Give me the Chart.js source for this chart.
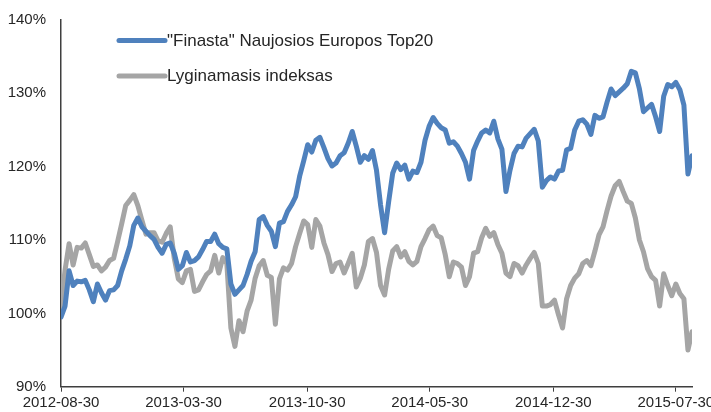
<!DOCTYPE html>
<html>
<head>
<meta charset="utf-8">
<script src="https://cdn.jsdelivr.net/npm/chart.js@4.4.1/dist/chart.umd.min.js"></script>
<style>
  html, body { margin: 0; padding: 0; background: #ffffff; }
  #wrap { width: 711px; height: 412px; position: relative; }
</style>
</head>
<body>
<div id="wrap"><canvas id="c" width="711" height="412"></canvas></div>
<script>
const dates = [
  '2012-08-30','2012-09-06','2012-09-13','2012-09-20','2012-09-27','2012-10-04','2012-10-11','2012-10-18','2012-10-25',
  '2012-11-01','2012-11-08','2012-11-15','2012-11-22','2012-11-29','2012-12-06','2012-12-13','2012-12-20','2012-12-27',
  '2013-01-03','2013-01-10','2013-01-17','2013-01-24','2013-01-31','2013-02-07','2013-02-14','2013-02-21','2013-02-28',
  '2013-03-07','2013-03-14','2013-03-21','2013-03-28','2013-04-04','2013-04-11','2013-04-18','2013-04-25','2013-05-02',
  '2013-05-09','2013-05-16','2013-05-23','2013-05-30','2013-06-06','2013-06-13','2013-06-20','2013-06-27','2013-07-04',
  '2013-07-11','2013-07-18','2013-07-25','2013-08-01','2013-08-08','2013-08-15','2013-08-22','2013-08-29','2013-09-05',
  '2013-09-12','2013-09-19','2013-09-26','2013-10-03','2013-10-10','2013-10-17','2013-10-24','2013-10-31','2013-11-07',
  '2013-11-14','2013-11-21','2013-11-28','2013-12-05','2013-12-12','2013-12-19','2013-12-26','2014-01-02','2014-01-09',
  '2014-01-16','2014-01-23','2014-01-30','2014-02-06','2014-02-13','2014-02-20','2014-02-27','2014-03-06','2014-03-13',
  '2014-03-20','2014-03-27','2014-04-03','2014-04-10','2014-04-17','2014-04-24','2014-05-01','2014-05-08','2014-05-15',
  '2014-05-22','2014-05-29','2014-06-05','2014-06-12','2014-06-19','2014-06-26','2014-07-03','2014-07-10','2014-07-17',
  '2014-07-24','2014-07-31','2014-08-07','2014-08-14','2014-08-21','2014-08-28','2014-09-04','2014-09-11','2014-09-18',
  '2014-09-25','2014-10-02','2014-10-09','2014-10-16','2014-10-23','2014-10-30','2014-11-06','2014-11-13','2014-11-20',
  '2014-11-27','2014-12-04','2014-12-11','2014-12-18','2014-12-25','2015-01-01','2015-01-08','2015-01-15','2015-01-22',
  '2015-01-29','2015-02-05','2015-02-12','2015-02-19','2015-02-26','2015-03-05','2015-03-12','2015-03-19','2015-03-26',
  '2015-04-02','2015-04-09','2015-04-16','2015-04-23','2015-04-30','2015-05-07','2015-05-14','2015-05-21','2015-05-28',
  '2015-06-04','2015-06-11','2015-06-18','2015-06-25','2015-07-02','2015-07-09','2015-07-16','2015-07-23','2015-07-30',
  '2015-08-06','2015-08-13','2015-08-20','2015-08-27'
];

const finasta = [
  99.5, 101.0, 105.8, 103.8, 104.4, 104.3, 104.5, 103.2, 101.6, 104.0,
  102.8, 101.8, 103.1, 103.2, 103.8, 105.8, 107.4, 109.2, 112.0, 113.0,
  111.8, 111.2, 110.6, 110.1, 109.0, 108.2, 109.4, 109.6, 108.2, 106.0,
  106.5, 108.3, 107.0, 107.2, 107.7, 108.7, 109.8, 109.8, 110.8, 109.5,
  109.0, 108.8, 104.0, 102.6, 103.2, 103.8, 105.3, 107.1, 108.4, 112.8,
  113.2, 112.0, 111.2, 109.1, 112.3, 112.5, 113.9, 114.8, 115.9, 118.7,
  120.8, 123.0, 122.0, 123.6, 124.0, 122.6, 121.1, 120.1, 120.5, 121.5,
  121.9, 123.2, 124.8, 122.8, 120.6, 121.5, 121.0, 122.2, 119.5, 114.8,
  111.0, 115.2, 119.1, 120.5, 119.6, 120.2, 118.3, 119.4, 119.2, 120.6,
  123.6, 125.5, 126.7, 125.9, 125.3, 125.0, 123.2, 123.4, 122.8, 121.8,
  120.6, 118.3, 122.2, 123.5, 124.6, 125.0, 124.6, 126.2, 123.8, 122.4,
  116.6, 119.5, 121.8, 122.8, 122.7, 123.9, 124.5, 125.1, 123.5, 117.2,
  118.1, 118.6, 118.3, 119.4, 119.5, 122.3, 122.5, 125.0, 126.2, 126.4,
  125.8, 124.4, 127.0, 126.6, 126.8, 128.8, 130.6, 129.7, 130.2, 130.7,
  131.3, 133.0, 132.8, 130.6, 127.5, 128.0, 128.5, 126.8, 124.8, 129.6,
  131.2, 130.9, 131.5, 130.5, 128.4, 119.0, 121.5
];

const lyginamasis = [
  100.8, 105.9, 109.5, 106.6, 109.0, 108.9, 109.6, 108.0, 106.4, 106.6,
  105.8, 106.3, 107.2, 107.5, 109.8, 112.2, 114.7, 115.4, 116.2, 114.7,
  112.7, 110.8, 111.0, 111.0, 109.9, 109.7, 110.9, 111.8, 107.5, 104.7,
  104.2, 105.8, 106.0, 103.0, 103.2, 104.3, 105.3, 105.8, 107.9, 105.5,
  107.6, 106.8, 98.0, 95.5, 99.0, 97.5, 100.3, 101.8, 104.8, 106.5,
  107.2, 105.2, 104.9, 98.5, 104.7, 106.2, 105.9, 106.8, 109.1, 110.9,
  112.6, 112.1, 109.0, 112.8, 111.9, 109.6, 108.0, 105.7, 106.8, 107.0,
  105.5, 106.8, 108.2, 103.6, 104.8, 106.6, 109.8, 110.2, 108.3, 103.8,
  102.5, 106.0, 108.5, 109.1, 107.7, 108.4, 107.1, 106.6, 107.1, 109.1,
  110.2, 111.4, 111.9, 110.6, 110.3, 108.0, 105.0, 107.0, 106.8, 106.3,
  103.8, 105.0, 108.2, 108.4, 110.3, 111.6, 110.5, 111.0, 109.4, 108.2,
  105.5, 105.0, 106.8, 106.5, 105.5, 106.6, 107.5, 108.3, 106.8, 101.0,
  101.0, 101.2, 101.8, 99.8, 98.0, 102.0, 103.8, 104.8, 105.4, 106.8,
  107.2, 106.5, 108.5, 110.7, 111.8, 114.0, 116.0, 117.4, 118.0, 116.6,
  115.3, 115.0, 113.0, 110.0, 108.4, 106.1, 105.0, 104.5, 101.0, 105.4,
  103.8, 102.4, 104.0, 102.7, 102.0, 95.0, 97.5
];

const seriesNames = ['"Finasta" Naujosios Europos Top20', 'Lyginamasis indeksas'];
const tickDates = ['2012-08-30','2013-03-30','2013-10-30','2014-05-30','2014-12-30','2015-07-30'];
const yTickValues = [90, 100, 110, 120, 130, 140];

const DAY = 86400000;
const t0 = Date.parse(dates[0] + 'T00:00:00Z');
const dayOf = s => Math.round((Date.parse(s + 'T00:00:00Z') - t0) / DAY);
const toPoints = vals => vals.map((v, i) => ({ x: dayOf(dates[i]), y: v }));
const tickLabelByDay = {};
tickDates.forEach(d => { tickLabelByDay[dayOf(d)] = d; });

const TEXT = '#262626';
const AXIS = '#3f3f3f';
const FONT = '"Liberation Sans", Arial, sans-serif';

const legendPlugin = {
  id: 'customLegend',
  afterDatasetsDraw(chart) {
    const ctx = chart.ctx;
    const rows = [40.5, 76];
    ctx.save();
    chart.data.datasets.forEach((ds, i) => {
      const y = rows[i];
      ctx.strokeStyle = ds.borderColor;
      ctx.lineWidth = 5;
      ctx.lineCap = 'round';
      ctx.beginPath();
      ctx.moveTo(119, y);
      ctx.lineTo(165, y);
      ctx.stroke();
      ctx.fillStyle = TEXT;
      ctx.font = '17px ' + FONT;
      ctx.textBaseline = 'middle';
      ctx.textAlign = 'left';
      ctx.fillText(ds.label, 167, y + 0.5);
    });
    ctx.restore();
  }
};

new Chart(document.getElementById('c'), {
  type: 'line',
  data: {
    datasets: [
      { label: seriesNames[0], data: toPoints(finasta), borderColor: '#4f81bd', borderWidth: 5,
        pointRadius: 0, tension: 0, fill: false, borderJoinStyle: 'round', borderCapStyle: 'round' },
      { label: seriesNames[1], data: toPoints(lyginamasis), borderColor: '#a5a5a5', borderWidth: 5,
        pointRadius: 0, tension: 0, fill: false, borderJoinStyle: 'round', borderCapStyle: 'round' }
    ]
  },
  options: {
    responsive: false,
    animation: false,
    events: [],
    layout: { padding: { top: 20, right: 19, left: 0, bottom: 0 } },
    plugins: { legend: { display: false }, tooltip: { enabled: false } },
    scales: {
      x: {
        type: 'linear',
        min: dayOf(dates[0]),
        max: dayOf(dates[dates.length - 1]),
        afterBuildTicks: s => { s.ticks = tickDates.map(d => ({ value: dayOf(d) })); },
        afterFit: s => { s.height = 25.3; s.paddingLeft = 0; s.paddingRight = 0; },
        ticks: {
          autoSkip: false, maxRotation: 0, minRotation: 0, padding: 2,
          color: TEXT, font: { family: FONT, size: 15 },
          callback: v => tickLabelByDay[v] || ''
        },
        grid: { display: true, drawOnChartArea: false, drawTicks: true, tickLength: 5, color: AXIS, lineWidth: 1 },
        border: { display: true, color: AXIS, width: 1.5 }
      },
      y: {
        min: 90, max: 140,
        afterBuildTicks: s => { s.ticks = yTickValues.map(v => ({ value: v })); },
        afterFit: s => { s.width = 61; s.paddingTop = 0; s.paddingBottom = 0; },
        ticks: {
          padding: 15, color: TEXT, font: { family: FONT, size: 15 },
          callback: v => v + '%'
        },
        grid: { display: false, drawTicks: false },
        border: { display: true, color: AXIS, width: 1.5 }
      }
    }
  },
  plugins: [legendPlugin]
});
</script>
</body>
</html>
